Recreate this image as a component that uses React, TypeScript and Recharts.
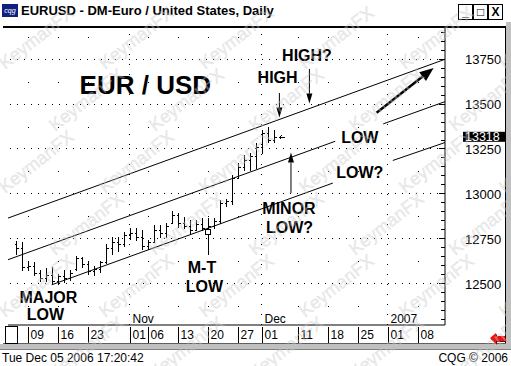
import React from "react";
import {
  ComposedChart,
  Bar,
  Scatter,
  XAxis,
  YAxis,
  ReferenceLine,
  ReferenceDot,
} from "recharts";

// daily bars, EUR/USD x 10000
const dates = [
  "2006-10-05", "2006-10-06", "2006-10-09", "2006-10-10", "2006-10-11", "2006-10-12",
  "2006-10-13", "2006-10-16", "2006-10-17", "2006-10-18", "2006-10-19", "2006-10-20",
  "2006-10-23", "2006-10-24", "2006-10-25", "2006-10-26", "2006-10-27", "2006-10-30",
  "2006-10-31", "2006-11-01", "2006-11-02", "2006-11-03", "2006-11-06", "2006-11-07",
  "2006-11-08", "2006-11-09", "2006-11-10", "2006-11-13", "2006-11-14", "2006-11-15",
  "2006-11-16", "2006-11-17", "2006-11-20", "2006-11-21", "2006-11-22", "2006-11-23",
  "2006-11-24", "2006-11-27", "2006-11-28", "2006-11-29", "2006-11-30", "2006-12-01",
  "2006-12-04", "2006-12-05",
];
const highs = [
  12736, 12730, 12628, 12619, 12573, 12584, 12591, 12556, 12573, 12573, 12656, 12647,
  12628, 12600, 12628, 12723, 12758, 12758, 12786, 12807, 12807, 12796, 12740, 12824,
  12824, 12835, 12907, 12891, 12870, 12852, 12852, 12863, 12863, 12863, 12963, 12974,
  13103, 13170, 13214, 13225, 13281, 13354, 13372, 13354,
];
const lows = [
  12666, 12573, 12573, 12545, 12517, 12517, 12498, 12500, 12511, 12522, 12573, 12591,
  12556, 12545, 12563, 12612, 12666, 12684, 12712, 12751, 12740, 12695, 12695, 12730,
  12758, 12758, 12835, 12814, 12807, 12779, 12796, 12796, 12667, 12807, 12835, 12935,
  12946, 13091, 13131, 13131, 13142, 13225, 13288, 13288,
];
const opens = [
  12720, 12700, 12590, 12600, 12560, 12530, 12550, 12515, 12540, 12530, 12580, 12640,
  12610, 12570, 12580, 12620, 12700, 12730, 12720, 12770, 12780, 12760, 12710, 12730,
  12800, 12780, 12840, 12880, 12840, 12820, 12800, 12830, 12810, 12820, 12850, 12950,
  12960, 13090, 13150, 13190, 13210, 13260, 13340, 13300,
];
const closes = [
  12700, 12590, 12600, 12560, 12530, 12550, 12515, 12540, 12530, 12560, 12640, 12610,
  12570, 12580, 12620, 12700, 12730, 12720, 12770, 12780, 12760, 12710, 12730, 12800,
  12780, 12820, 12880, 12840, 12820, 12800, 12830, 12810, 12820, 12850, 12950, 12960,
  13090, 13150, 13190, 13210, 13260, 13340, 13300, 13318,
];

// x axis: trading-day positions of the date ticks
const tickIndex = [2, 7, 12, 19, 22, 27, 32, 37, 41, 47, 52, 57, 62, 67];
const tickLabels = ["09", "16", "23", "01", "06", "13", "20", "27", "01", "11", "18", "25", "01", "08"];
const monthTicks = [19, 41, 62];
const monthNames = ["Nov", "Dec", "2007"];

const priceLevels = [12500, 12750, 13000, 13250, 13500, 13750];
const halfLevels = [12375, 12625, 12875, 13125, 13375, 13625, 13875];

// trend channel, [dayIndex, price]
const upperLine = [[-1.33, 12865], [71.5, 13750]];
const middleLines = [
  [[-1.33, 12633], [53.2, 13293]],
  [[61.2, 13390], [71.5, 13514]],
];
const lowerLines = [
  [[5.95, 12493], [52.8, 13060]],
  [[62.8, 13186], [71.5, 13286]],
];

const X_DOMAIN = [-1.333, 71.5];
const Y_DOMAIN = [12269, 13930];
const FONT = '"Liberation Sans", Arial, Helvetica, sans-serif';

const data = dates.map((d, i) => ({
  t: i,
  date: d,
  range: [lows[i], highs[i]],
  open: opens[i],
  high: highs[i],
  low: lows[i],
  close: closes[i],
}));
const lastIndex = dates.length - 1;
const lastClose = closes[lastIndex];

const minorTicks: number[] = [];
for (let v = 12300; v <= 13900; v += 50) minorTicks.push(v);

const gridDots = halfLevels.flatMap((y) =>
  tickIndex.filter((t) => !monthTicks.includes(t)).map((t) => ({ t, y }))
);

const OhlcBar = (props: any) => {
  const { x, y, width, height, payload, index } = props;
  if (x == null || !payload) return null;
  const top = Math.min(y, y + height);
  const h = Math.abs(height);
  const cx = Math.round(x + width / 2) + 0.5;
  const span = payload.high - payload.low || 1;
  const py = (v: number) => Math.round(top + ((payload.high - v) / span) * h) + 0.5;
  return (
    <g stroke="#000" strokeWidth={1} shapeRendering="crispEdges">
      <line x1={cx} x2={cx} y1={Math.round(top)} y2={Math.round(top + h) + 1} />
      <line x1={cx - 2} x2={cx} y1={py(payload.open)} y2={py(payload.open)} />
      <line x1={cx} x2={cx + 2} y1={py(payload.close)} y2={py(payload.close)} />
      {index === lastIndex && (
        <g>
          <line x1={cx + 5} x2={cx + 10} y1={py(payload.close)} y2={py(payload.close)} />
          <line x1={cx + 5} x2={cx + 7} y1={py(payload.close)} y2={py(payload.close) - 2} />
          <line x1={cx + 5} x2={cx + 7} y1={py(payload.close)} y2={py(payload.close) + 2} />
        </g>
      )}
    </g>
  );
};

const PriceTick = (props: any) => {
  const { x, y, payload } = props;
  const v = payload.value;
  if (v === lastClose) {
    return (
      <g>
        <rect x={x + 18} y={y - 5} width={43} height={10} fill="#000" />
        <text x={x + 20} y={y + 4} fontSize={12.5} fontFamily={FONT} fill="#fff">
          {v}
        </text>
      </g>
    );
  }
  const major = priceLevels.includes(v);
  return (
    <g>
      <line x1={x - (major ? 6 : 4)} x2={x} y1={y} y2={y} stroke="#000" shapeRendering="crispEdges" />
      {major && (
        <text x={x + 20} y={y + 5} fontSize={13} fontFamily={FONT} fill="#000">
          {v}
        </text>
      )}
    </g>
  );
};

const LeftTick = (props: any) => {
  const { x, y, payload } = props;
  const major = priceLevels.includes(payload.value);
  return (
    <line x1={x} x2={x + (major ? 6 : 4)} y1={y} y2={y} stroke="#000" shapeRendering="crispEdges" />
  );
};

const DateTick = (props: any) => {
  const { x, y, payload, index } = props;
  const m = monthTicks.indexOf(payload.value);
  const px = Math.round(x) + 0.5;
  return (
    <g fontFamily={FONT} fontSize={12}>
      <line x1={px} x2={px} y1={y + 2} y2={y + 18} stroke="#000" shapeRendering="crispEdges" />
      <text x={px + 2} y={y + 14} fill="#000">
        {tickLabels[index]}
      </text>
      {m >= 0 && (
        <text x={px + 2} y={y - 2} fill="#000">
          {monthNames[m]}
        </text>
      )}
    </g>
  );
};

const arrowShape = (len: number, half: number, sw: number) => (p: any) => {
  const { x1, y1, x2, y2 } = p;
  if (x1 == null) return null;
  const dx = x2 - x1;
  const dy = y2 - y1;
  const d = Math.hypot(dx, dy) || 1;
  const ux = dx / d;
  const uy = dy / d;
  const bx = x2 - ux * len;
  const by = y2 - uy * len;
  const pts = `${x2},${y2} ${bx - uy * half},${by + ux * half} ${bx + uy * half},${by - ux * half}`;
  return (
    <g>
      <line x1={x1} y1={y1} x2={bx} y2={by} stroke="#000" strokeWidth={sw} />
      <polygon points={pts} fill="#000" />
    </g>
  );
};

const labelShape = (text: string, size: number, anchor: "start" | "middle") => (p: any) => (
  <text
    x={p.cx}
    y={p.cy}
    textAnchor={anchor}
    fontFamily={FONT}
    fontWeight="bold"
    fontSize={size}
    fill="#000"
  >
    {text}
  </text>
);

const annotations: { text: string; x: number; y: number; size: number; anchor: "start" | "middle" }[] = [
  { text: "EUR / USD", x: 10.6, y: 13555, size: 26, anchor: "start" },
  { text: "HIGH", x: 43.6, y: 13618, size: 16, anchor: "middle" },
  { text: "HIGH?", x: 48.5, y: 13743, size: 16, anchor: "middle" },
  { text: "LOW", x: 57.3, y: 13283, size: 16, anchor: "middle" },
  { text: "LOW?", x: 57.3, y: 13088, size: 16, anchor: "middle" },
  { text: "MINOR", x: 45.5, y: 12890, size: 16, anchor: "middle" },
  { text: "LOW?", x: 45.6, y: 12781, size: 16, anchor: "middle" },
  { text: "M-T", x: 31.0, y: 12558, size: 16, anchor: "middle" },
  { text: "LOW", x: 31.4, y: 12455, size: 16, anchor: "middle" },
  { text: "MAJOR", x: 5.4, y: 12393, size: 16, anchor: "middle" },
  { text: "LOW", x: 4.9, y: 12298, size: 16, anchor: "middle" },
];

const arrows: { from: number[]; to: number[]; len: number; half: number; sw: number }[] = [
  { from: [43.9, 13562], to: [43.9, 13425], len: 10, half: 3, sw: 1 },
  { from: [48.9, 13696], to: [48.9, 13503], len: 10, half: 3, sw: 1 },
  { from: [45.83, 13005], to: [45.83, 13230], len: 10, half: 3, sw: 1 },
  { from: [60.1, 13452], to: [69.6, 13702], len: 14, half: 5.5, sw: 2.5 },
];

const Watermark = () => {
  const items: React.ReactNode[] = [];
  let k = 0;
  for (let row = 0; row < 7; row++) {
    for (let col = 0; col < 6; col++) {
      const x = 5 + col * 100 + (row % 2) * 50;
      const y = 70 + row * 62;
      items.push(
        <text
          key={k++}
          x={x}
          y={y}
          transform={`rotate(-38 ${x} ${y})`}
          fontFamily={FONT}
          fontSize={18}
          fill="#d4d4d4"
          fillOpacity={0.4}
          stroke="#a8a8a8"
          strokeOpacity={0.22}
          strokeWidth={0.6}
        >
          KeymanFX
        </text>
      );
    }
  }
  return (
    <svg width={511} height={366} style={{ position: "absolute", left: 0, top: 0, pointerEvents: "none" }}>
      {items}
    </svg>
  );
};

const TitleBar = () => (
  <div style={{ position: "absolute", left: 0, top: 0, width: 511, height: 24 }}>
    <div
      style={{
        position: "absolute",
        left: 2,
        top: 4,
        width: 16,
        height: 13,
        background: "#102080",
        color: "#fff",
        fontSize: 7,
        fontStyle: "italic",
        lineHeight: "13px",
        textAlign: "center",
        fontFamily: FONT,
      }}
    >
      cqg
    </div>
    <div
      style={{
        position: "absolute",
        left: 21,
        top: 3,
        fontFamily: FONT,
        fontWeight: "bold",
        fontSize: 13,
        lineHeight: "16px",
        color: "#000",
        whiteSpace: "nowrap",
      }}
    >
      EURUSD - DM-Euro / United States, Daily
    </div>
    {["_", "\u25a1", "X"].map((g, i) => (
      <div
        key={g}
        style={{
          position: "absolute",
          left: 458 + i * 15,
          top: 4,
          width: 13,
          height: 14,
          border: "1px solid #000",
          background: "#fff",
          fontFamily: FONT,
          fontWeight: "bold",
          fontSize: 12,
          lineHeight: "14px",
          textAlign: "center",
        }}
      >
        {g}
      </div>
    ))}
  </div>
);

const App = () => {
  return (
    <div
      style={{
        position: "fixed",
        left: 0,
        top: 0,
        width: 511,
        height: 366,
        background: "#fff",
        overflow: "hidden",
        fontFamily: FONT,
      }}
    >
      <TitleBar />
      {/* window frame */}
      <div style={{ position: "absolute", left: 3, top: 26, width: 503, height: 2, background: "#000" }} />
      <div style={{ position: "absolute", left: 505, top: 26, width: 1, height: 318, background: "#000" }} />
      <div style={{ position: "absolute", left: 506, top: 22, width: 5, height: 328, background: "#c0c0c0" }} />
      <div style={{ position: "absolute", left: 3, top: 343, width: 503, height: 1, background: "#606060" }} />
      <div style={{ position: "absolute", left: 0, top: 344, width: 511, height: 5, background: "#c0c0c0" }} />
      <div style={{ position: "absolute", left: 0, top: 349, width: 511, height: 1, background: "#808080" }} />
      <div
        style={{
          position: "absolute",
          left: 5,
          top: 326,
          width: 11,
          height: 16,
          border: "1px solid #000",
        }}
      />
      <svg width={18} height={12} style={{ position: "absolute", left: 489, top: 333 }}>
        <polygon points="1,5 7,0 7,3 16,3 16,8 7,8 7,11" fill="#7a0000" transform="translate(1,1)" />
        <polygon points="1,5 7,0 7,3 16,3 16,8 7,8 7,11" fill="#ee1111" />
      </svg>
      <div
        style={{
          position: "absolute",
          left: 2,
          top: 351,
          fontSize: 12,
          lineHeight: "14px",
          color: "#000",
        }}
      >
        Tue Dec 05 2006 17:20:42
      </div>
      <div
        style={{
          position: "absolute",
          right: 3,
          top: 351,
          fontSize: 12,
          lineHeight: "14px",
          color: "#000",
        }}
      >
        CQG © 2006
      </div>

      <div style={{ position: "absolute", left: 0, top: 0 }}>
        <ComposedChart
          width={511}
          height={366}
          data={data}
          margin={{ top: 27, right: 8, bottom: 24, left: 8 }}
        >
          <XAxis
            dataKey="t"
            type="number"
            domain={X_DOMAIN}
            allowDataOverflow
            ticks={tickIndex}
            interval={0}
            height={17}
            tickSize={0}
            tickMargin={0}
            axisLine={{ stroke: "#000" }}
            tickLine={false}
            tick={<DateTick />}
          />
          <YAxis
            orientation="right"
            type="number"
            domain={Y_DOMAIN}
            allowDataOverflow
            ticks={[...minorTicks, lastClose]}
            interval={0}
            width={58}
            tickSize={0}
            tickMargin={0}
            axisLine={{ stroke: "#000" }}
            tickLine={false}
            tick={<PriceTick />}
          />
          <YAxis
            yAxisId="L"
            orientation="left"
            type="number"
            domain={Y_DOMAIN}
            allowDataOverflow
            mirror
            width={0}
            ticks={minorTicks}
            interval={0}
            tickSize={0}
            tickMargin={0}
            axisLine={{ stroke: "#000", strokeWidth: 3 }}
            tickLine={false}
            tick={<LeftTick />}
          />

          {priceLevels.map((v) => (
            <ReferenceLine
              key={`g${v}`}
              y={v}
              stroke="#000"
              strokeDasharray="1 6"
              shapeRendering="crispEdges"
            />
          ))}
          {monthTicks.map((t) => (
            <ReferenceLine
              key={`m${t}`}
              x={t}
              stroke="#000"
              strokeDasharray="1 9"
              shapeRendering="crispEdges"
            />
          ))}
          <Scatter
            data={gridDots}
            dataKey="y"
            isAnimationActive={false}
            shape={(p: any) => <rect x={Math.round(p.cx)} y={Math.round(p.cy)} width={1} height={1} fill="#000" />}
          />

          <ReferenceLine
            segment={[{ x: upperLine[0][0], y: upperLine[0][1] }, { x: upperLine[1][0], y: upperLine[1][1] }]}
            stroke="#000"
            ifOverflow="hidden"
          />
          {[...middleLines, ...lowerLines].map((s, i) => (
            <ReferenceLine
              key={`c${i}`}
              segment={[{ x: s[0][0], y: s[0][1] }, { x: s[1][0], y: s[1][1] }]}
              stroke="#000"
              ifOverflow="hidden"
            />
          ))}

          <Bar dataKey="range" barSize={5} isAnimationActive={false} shape={<OhlcBar />} />

          <ReferenceDot
            x={32}
            y={12790}
            ifOverflow="visible"
            shape={(p: any) => (
              <rect x={Math.round(p.cx) - 2.5} y={Math.round(p.cy) - 2.5} width={5} height={5} fill="#fff" stroke="#000" />
            )}
          />
          {arrows.map((a, i) => (
            <ReferenceLine
              key={`a${i}`}
              segment={[{ x: a.from[0], y: a.from[1] }, { x: a.to[0], y: a.to[1] }]}
              ifOverflow="visible"
              shape={arrowShape(a.len, a.half, a.sw)}
            />
          ))}
          {annotations.map((a, i) => (
            <ReferenceDot
              key={`t${i}`}
              x={a.x}
              y={a.y}
              ifOverflow="visible"
              shape={labelShape(a.text, a.size, a.anchor)}
            />
          ))}
        </ComposedChart>
      </div>
      <Watermark />
    </div>
  );
};

export default App;
